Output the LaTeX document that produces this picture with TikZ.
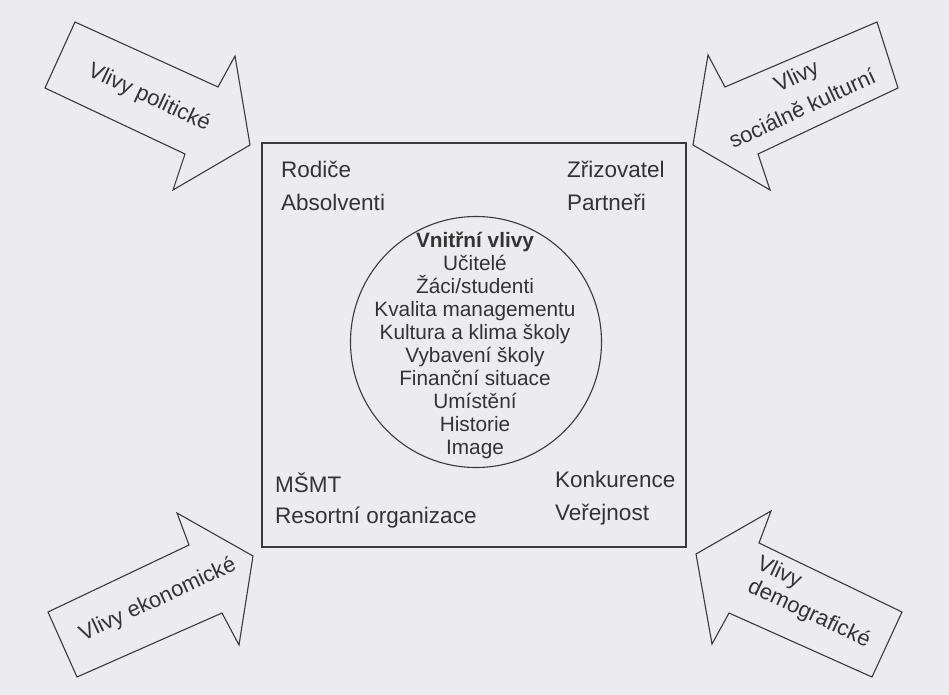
\documentclass[tikz,border=0pt]{standalone}
\usepackage{fontspec}
\setmainfont{Liberation Sans}
\definecolor{paper}{HTML}{ECECF0}
\definecolor{ink}{HTML}{333333}
\definecolor{linec}{HTML}{3A3A3A}
\begin{document}
\begin{tikzpicture}[x=1pt,y=-1pt,
  shp/.style={draw=linec,line width=1.1pt,line join=miter},
  boxshp/.style={draw=linec,line width=1.4pt},
  outer/.style={inner sep=0pt,text=ink,anchor=base west,font=\fontsize{22.5}{27}\selectfont},
  inlbl/.style={inner sep=0pt,text=ink,anchor=base,font=\fontsize{20.8}{23}\selectfont},
  arrlbl/.style={inner sep=0pt,text=ink,font=\fontsize{22}{28}\selectfont}]
\useasboundingbox (0,0) rectangle (949,695);
\fill[paper] (0,0) rectangle (949,695);
% arrows
\draw[shp] (75,22) -- (218,87) -- (235,56) -- (250,145) -- (173,190) -- (185,154) -- (45,88) -- cycle;
\draw[shp] (877,22) -- (898,88) -- (758,154) -- (770,190) -- (693,145) -- (708,55) -- (725,87) -- cycle;
\draw[shp] (48,612) -- (77,677) -- (222,613) -- (239,645) -- (253,556) -- (177,513) -- (189,545) -- cycle;
\draw[shp] (771,511) -- (759,543) -- (902,612) -- (872,677) -- (729,613) -- (712,644) -- (696,554) -- cycle;
\node[arrlbl,rotate=-25] (pol) at (149,98) {Vlivy politické};
\node[arrlbl,rotate=25] (soc1) at (797,78) {Vlivy};
\node[arrlbl,rotate=25] (soc2) at (802,108) {sociálně kulturní};
\node[arrlbl,rotate=25] (eko) at (158,600) {Vlivy ekonomické};
\node[arrlbl,rotate=-25] (dem1) at (779,573) {Vlivy};
\node[arrlbl,rotate=-25] (dem2) at (809,614) {demografické};
% box and circle
\draw[boxshp] (262,143) rectangle (686,547);
\draw[shp] (476,342) circle[radius=125.5];
% outer labels
\node[outer] (rod) at (281,178) {Rodiče};
\node[outer] (abs) at (281,210) {Absolventi};
\node[outer] (zri) at (567,178) {Zřizovatel};
\node[outer] (par) at (567,210) {Partneři};
\node[outer] (msmt) at (275,492) {MŠMT};
\node[outer] (res) at (275,523) {Resortní organizace};
\node[outer] (kon) at (555,487) {Konkurence};
\node[outer] (ver) at (555,520) {Veřejnost};
% inner labels
\node[inlbl,font=\fontsize{20.8}{23}\selectfont\bfseries] (vni) at (475,247) {Vnitřní vlivy};
\node[inlbl] (uci) at (475,270.1) {Učitelé};
\node[inlbl] (zak) at (475,293.2) {Žáci/studenti};
\node[inlbl] (kva) at (475,316.3) {Kvalita managementu};
\node[inlbl] (kul) at (475,339.4) {Kultura a klima školy};
\node[inlbl] (vyb) at (475,362.5) {Vybavení školy};
\node[inlbl] (fin) at (475,385.6) {Finanční situace};
\node[inlbl] (umi) at (475,408.7) {Umístění};
\node[inlbl] (his) at (475,431.8) {Historie};
\node[inlbl] (img) at (475,454.9) {Image};
\end{tikzpicture}
\end{document}
